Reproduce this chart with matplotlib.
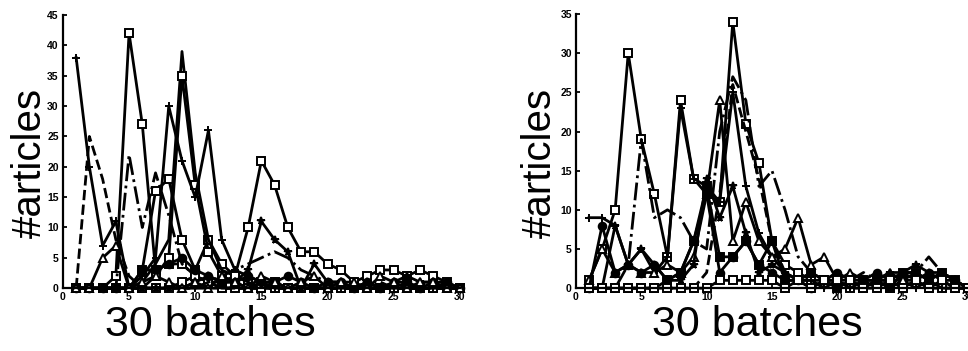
import numpy as np
import matplotlib
matplotlib.use("Agg")
import matplotlib.pyplot as plt

plt.rcParams['font.family'] = ['Liberation Sans', 'DejaVu Sans']

batches = np.arange(1, 31)

# left panel: articles per batch for each topic
left_series = {
    "plus_a":   [38, 20, 7, 11, 0, 0, 0, 0, 0, 0, 1, 0, 0, 0, 0, 1, 0, 0, 0, 0, 0, 0, 0, 0, 0, 0, 0, 0, 0, 0],
    "dash_a":   [0, 25, 18, 8, 2, 0, 0, 0, 0, 0, 0, 0, 0, 0, 0, 0, 0, 0, 0, 0, 0, 0, 0, 0, 0, 0, 0, 0, 0, 0],
    "sq_a":     [0, 0, 0, 2, 42, 27, 3, 4, 4, 2, 1, 0, 0, 0, 1, 0, 0, 0, 0, 0, 0, 0, 0, 0, 0, 0, 0, 0, 0, 0],
    "sq_b":     [0, 0, 0, 0, 0, 3, 16, 18, 8, 3, 8, 4, 2, 1, 0, 1, 0, 0, 0, 0, 0, 0, 0, 0, 0, 0, 0, 0, 0, 0],
    "dashdot_a": [0, 0, 0, 0, 22, 10, 19, 12, 4, 2, 1, 0, 0, 0, 0, 0, 0, 0, 0, 0, 0, 0, 0, 0, 0, 0, 0, 0, 0, 0],
    "solid_a":  [0, 0, 0, 0, 0, 1, 4, 8, 39, 19, 8, 3, 2, 1, 0, 0, 0, 0, 0, 0, 0, 0, 0, 0, 0, 0, 0, 0, 0, 0],
    "sq_c":     [0, 0, 0, 0, 0, 0, 2, 5, 35, 17, 6, 2, 1, 0, 0, 0, 0, 0, 0, 0, 0, 0, 0, 0, 0, 0, 0, 0, 0, 0],
    "plus_b":   [0, 0, 0, 0, 0, 2, 5, 30, 21, 15, 26, 8, 3, 2, 1, 0, 0, 0, 0, 0, 0, 0, 0, 0, 0, 0, 0, 0, 0, 0],
    "sq_d":     [0, 0, 0, 0, 0, 0, 0, 0, 1, 2, 1, 1, 2, 10, 21, 17, 10, 6, 6, 4, 3, 1, 2, 3, 3, 2, 3, 2, 1, 0],
    "star_a":   [0, 0, 0, 0, 0, 0, 0, 0, 0, 1, 2, 1, 1, 3, 11, 8, 6, 0, 4, 1, 1, 0, 1, 0, 1, 2, 1, 1, 0, 0],
    "dashdot_b": [0, 0, 0, 0, 0, 0, 0, 0, 0, 0, 1, 2, 3, 4, 5, 6, 5, 3, 2, 1, 1, 0, 1, 1, 0, 1, 0, 0, 1, 0],
    "circ_a":   [0, 0, 0, 0, 0, 3, 3, 4, 5, 3, 2, 1, 1, 2, 1, 1, 2, 1, 0, 1, 1, 0, 1, 0, 1, 1, 0, 1, 1, 0],
    "tri_a":    [0, 0, 5, 7, 0, 1, 2, 1, 0, 1, 0, 2, 1, 0, 2, 1, 0, 1, 2, 0, 1, 1, 0, 2, 1, 0, 1, 1, 0, 0],
}
left_styles = {
    "plus_a": ("-", "+"), "dash_a": ("--", None), "sq_a": ("-", "s"), "sq_b": ("-", "s"),
    "dashdot_a": ("-.", None), "solid_a": ("-", None), "sq_c": ("-", "s"), "plus_b": ("-", "+"),
    "sq_d": ("-", "s"), "star_a": ("-", "*"), "dashdot_b": ("-.", None), "circ_a": ("-", "o"),
    "tri_a": ("-", "^"),
}

# right panel
right_series = {
    "sq_a":     [1, 5, 10, 30, 19, 12, 4, 24, 14, 12, 11, 34, 21, 16, 6, 3, 2, 1, 1, 1, 0, 1, 1, 0, 1, 1, 0, 0, 0, 0],
    "plus_a":   [9, 9, 8, 3, 5, 2, 4, 23, 14, 13, 11, 25, 13, 7, 4, 2, 1, 1, 0, 1, 0, 1, 0, 1, 1, 0, 1, 0, 0, 0],
    "dashdot_a": [0, 0, 0, 3, 19, 9, 10, 9, 6, 5, 20, 27, 24, 13, 15, 10, 4, 2, 1, 2, 1, 2, 1, 1, 2, 2, 4, 2, 1, 0],
    "tri_a":    [1, 5, 2, 3, 2, 2, 3, 2, 4, 12, 24, 6, 11, 6, 4, 5, 9, 3, 4, 1, 2, 1, 1, 2, 1, 2, 1, 2, 1, 0],
    "circ_a":   [0, 8, 2, 3, 2, 3, 1, 2, 6, 12, 2, 4, 6, 3, 2, 1, 1, 0, 1, 2, 1, 1, 2, 1, 2, 1, 2, 1, 1, 0],
    "star_a":   [0, 0, 8, 3, 5, 3, 1, 1, 3, 14, 9, 13, 7, 2, 3, 2, 1, 2, 1, 0, 1, 0, 1, 2, 2, 3, 2, 2, 1, 0],
    "dash_a":   [0, 0, 0, 0, 0, 0, 0, 0, 0, 2, 12, 26, 20, 14, 6, 2, 1, 1, 0, 1, 0, 0, 1, 1, 0, 1, 0, 1, 0, 0],
    "fsq_a":    [0, 0, 0, 0, 0, 0, 1, 2, 6, 13, 4, 4, 6, 3, 6, 1, 1, 2, 1, 0, 1, 0, 1, 0, 2, 2, 1, 2, 1, 0],
    "sq_b":     [0, 0, 0, 0, 0, 0, 0, 0, 0, 0, 1, 1, 1, 1, 1, 0, 1, 0, 1, 1, 1, 0, 0, 1, 0, 1, 0, 1, 0, 0],
}
right_styles = {
    "sq_a": ("-", "s"), "plus_a": ("-", "+"), "dashdot_a": ("-.", None), "tri_a": ("-", "^"),
    "circ_a": ("-", "o"), "star_a": ("-", "*"), "dash_a": ("--", None), "fsq_a": ("-", "s"),
    "sq_b": ("-", "s"),
}


def draw(ax, series, styles, ymax):
    for name, vals in series.items():
        ls, mk = styles[name]
        face = "black" if name.startswith("f") or name in ("circ_a", "star_a") else "white"
        ax.plot(batches, vals, color="black", linestyle=ls, linewidth=2.0,
                marker=mk, markersize=5.5, markerfacecolor=face,
                markeredgecolor="black", markeredgewidth=1.4, clip_on=False)
    ax.set_xlim(0, 30)
    ax.set_ylim(0, ymax)
    ax.set_xticks(range(0, 31, 5))
    ax.set_yticks(range(0, ymax + 1, 5))
    ax.spines["top"].set_visible(False)
    ax.spines["right"].set_visible(False)
    ax.spines["left"].set_linewidth(1.6)
    ax.spines["bottom"].set_linewidth(1.6)
    ax.tick_params(direction="in", length=3, width=1.3, labelsize=7.5, pad=3)
    for lab in ax.get_xticklabels() + ax.get_yticklabels():
        lab.set_fontweight("bold")


fig = plt.figure(figsize=(9.68, 3.51), dpi=100)
ax1 = fig.add_axes([0.065, 0.179, 0.41, 0.778])
ax2 = fig.add_axes([0.595, 0.179, 0.405, 0.781])

draw(ax1, left_series, left_styles, 45)
draw(ax2, right_series, right_styles, 35)

fig.text(0.217, 0.074, "30 batches", fontsize=31, ha="center", va="center")
fig.text(0.782, 0.074, "30 batches", fontsize=31, ha="center", va="center")
fig.text(0.031, 0.535, "#articles", fontsize=29, rotation=90, ha="center", va="center")
fig.text(0.558, 0.535, "#articles", fontsize=29, rotation=90, ha="center", va="center")

fig.savefig("out.png", dpi=100)
